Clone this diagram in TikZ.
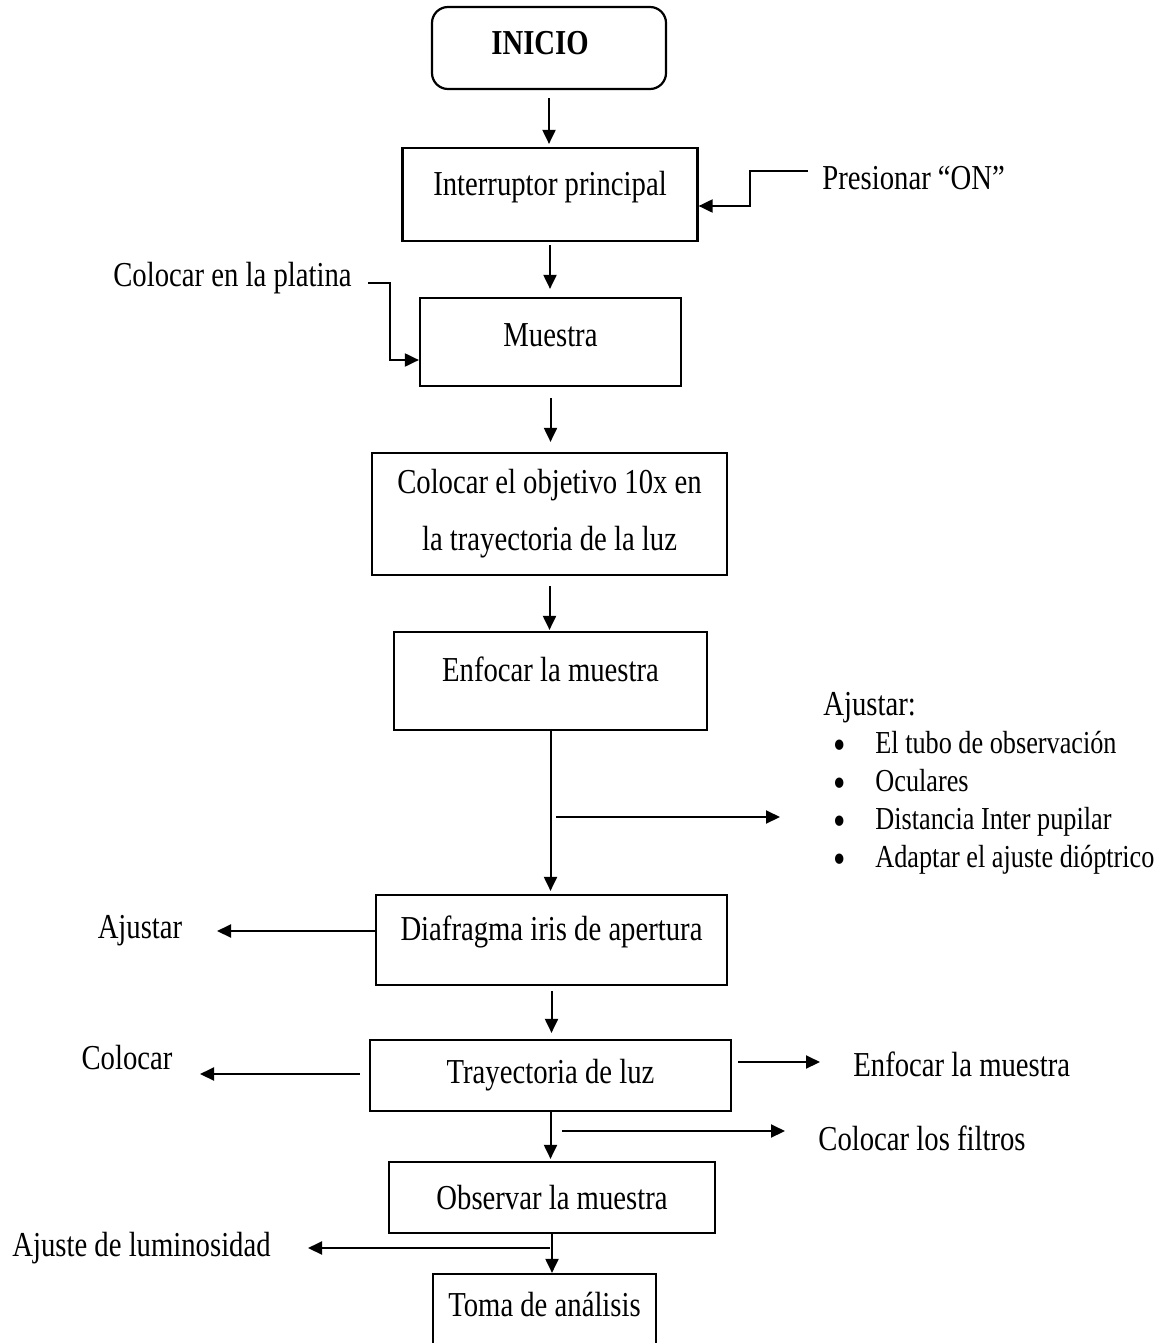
\documentclass[tikz,border=0pt]{standalone}
\usepackage{fontspec}
\setmainfont{Liberation Serif}[FakeStretch=0.82]
\usetikzlibrary{arrows.meta}
\newcommand{\bul}{\hspace*{5pt}\makebox[21pt][l]{\raisebox{-2.8pt}[0pt][0pt]{\scalebox{1.35}{•}}}}
\begin{document}
\begin{tikzpicture}[x=0.5pt,y=-0.5pt,
  font=\fontsize{17.5pt}{21pt}\selectfont,
  box/.style n args={2}{draw, line width=1.1pt, inner sep=0pt, align=center,
     minimum width=#1*0.5pt, minimum height=#2*0.5pt},
  raise/.style={text depth=#1},
  arr/.style={-{Triangle[length=7pt,width=6.5pt]}, line width=1pt},
  lbl/.style={inner sep=0pt}]
\clip (0,0) rectangle (1170,1343);
\fill[white] (0,0) rectangle (1170,1343);

% main boxes
\node[box={234}{82}, rounded corners=8pt, raise=5pt] (ini) at (549,48) {\textbf{INICIO}\hspace*{9pt}};
\node[box={295}{93}, raise=11pt] (intr) at (550,194.5) {Interruptor principal};
\node[box={261}{88}, raise=7pt] (mue) at (550.5,342) {Muestra};
\node[box={355}{122}] (obj) at (549.5,514) {Colocar el objetivo 10x en\\[7.5pt] la trayectoria de la luz};
\node[box={313}{98}, raise=12pt] (enf) at (550.5,681) {Enfocar la muestra};
\node[box={351}{90}, raise=12pt] (dia) at (551.5,940) {Diafragma iris de apertura};
\node[box={361}{71}] (tra) at (550.5,1075.5) {Trayectoria de luz};
\node[box={326}{71}] (obs) at (552,1197.5) {Observar la muestra};
\node[box={223}{76}, raise=8pt] (tom) at (544.5,1312) {Toma de análisis};

% side labels
\node[lbl, anchor=west] (pon) at (822,178) {Presionar “ON”};
\node[lbl, anchor=east] (pla) at (352,278) {Colocar en la platina};
\node[lbl, anchor=north west, align=left, font=\fontsize{16pt}{19pt}\selectfont] (ajl) at (823,692)
  {{\fontsize{17.5pt}{19pt}\selectfont Ajustar:}\\
  \bul El tubo de observación\\
  \bul Oculares\\
  \bul Distancia Inter pupilar\\
  \bul Adaptar el ajuste dióptrico};
\node[lbl] (aj2) at (140,931) {Ajustar};
\node[lbl] (col) at (127,1058) {Colocar};
\node[lbl, anchor=west] (enf2) at (853,1064) {Enfocar la muestra};
\node[lbl, anchor=west] (fil) at (818,1138) {Colocar los filtros};
\node[lbl, anchor=west] (lum) at (12,1248) {Ajuste de luminosidad};

% free-end coordinates
\coordinate (ponS) at (808,171);
\coordinate (plaS) at (368,283);
\coordinate (b1S) at (556,817);
\coordinate (b1E) at (780,817);
\coordinate (ajE) at (217,931);
\coordinate (colS) at (360,1074);
\coordinate (colE) at (200,1074);
\coordinate (enfS) at (738,1062);
\coordinate (enfE) at (820,1062);
\coordinate (filS) at (562,1131);
\coordinate (filE) at (785,1131);
\coordinate (lumS) at (550,1248);
\coordinate (lumE) at (308,1248);

% main flow
\draw[arr, shorten <=4pt, shorten >=1.5pt] (ini.south) -- (ini.south |- intr.north);
\draw[arr, shorten <=1.5pt, shorten >=4pt] (intr.south) -- (intr.south |- mue.north);
\draw[arr, shorten <=5.5pt, shorten >=5pt] (mue.south) -- (mue.south |- obj.north);
\draw[arr, shorten <=5pt, shorten >=0.5pt] (obj.south) -- (obj.south |- enf.north);
\draw[arr, shorten >=1.5pt] (enf.south) -- (enf.south |- dia.north);
\draw[arr, shorten <=2.5pt, shorten >=3pt] (dia.south) -- (dia.south |- tra.north);
\draw[arr, shorten >=1pt] (tra.south) -- (tra.south |- obs.north);
\draw[arr] (obs.south) -- (obs.south |- tom.north);

% side connectors
\draw[arr] (ponS) -- (750,171) -- (750,206) -- (intr.east |- 0,206);
\draw[arr] (plaS) -- (390,283) -- (390,360) -- (mue.west |- 0,360);
\draw[arr] (b1S) -- (b1E);
\draw[arr] (dia.west |- ajE) -- (ajE);
\draw[arr] (colS) -- (colE);
\draw[arr] (enfS) -- (enfE);
\draw[arr] (filS) -- (filE);
\draw[arr] (lumS) -- (lumE);
\end{tikzpicture}
\end{document}
